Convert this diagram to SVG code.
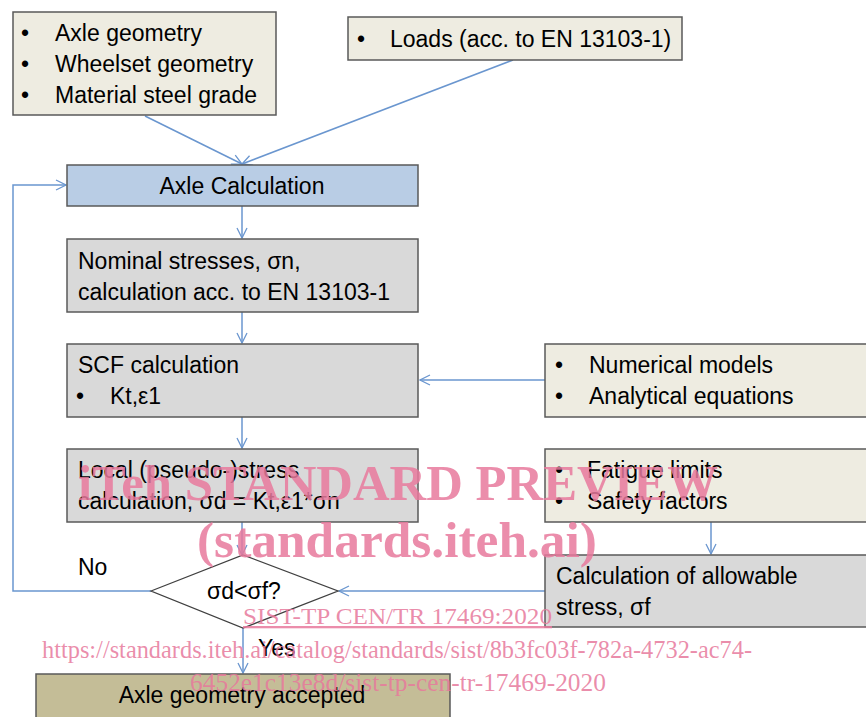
<svg xmlns="http://www.w3.org/2000/svg" width="866" height="717" viewBox="0 0 866 717">
<defs>
<marker id="arr" viewBox="0 0 12 12" refX="11" refY="6" markerWidth="12" markerHeight="12" markerUnits="userSpaceOnUse" orient="auto">
<polyline points="1,1 11,6 1,11" fill="none" stroke="#6A96CF" stroke-width="1.3"/>
</marker>
<style>
.box{stroke:#595959;stroke-width:1.5}
.inp{fill:#EEECE1}
.calc{fill:#D9D9D9}
.blue{fill:#B9CDE5}
.ok{fill:#C4BD97}
text{font-family:"Liberation Sans",Arial,sans-serif;font-size:23px;fill:#000}
.c{text-anchor:middle}
.ln{fill:none;stroke:#6A96CF;stroke-width:1.5}
.wm{font-family:"Liberation Serif","Times New Roman",serif;fill:#E7799C;fill-opacity:0.85}
</style>
</defs>
<g id="connectors">
<line class="ln" x1="145" y1="116" x2="242" y2="164" marker-end="url(#arr)"/>
<line class="ln" x1="513" y1="60" x2="242" y2="164" marker-end="url(#arr)"/>
<line class="ln" x1="242" y1="206" x2="242" y2="238" marker-end="url(#arr)"/>
<line class="ln" x1="242" y1="312" x2="242" y2="343" marker-end="url(#arr)"/>
<line class="ln" x1="242" y1="417" x2="242" y2="448" marker-end="url(#arr)"/>
<line class="ln" x1="242" y1="522" x2="242" y2="555" marker-end="url(#arr)"/>
<line class="ln" x1="545" y1="380" x2="420" y2="380" marker-end="url(#arr)"/>
<line class="ln" x1="711" y1="522" x2="711" y2="554" marker-end="url(#arr)"/>
<line class="ln" x1="545" y1="591" x2="339" y2="591" marker-end="url(#arr)"/>
<polyline class="ln" points="151,591 13,591 13,185 66,185" marker-end="url(#arr)"/>
<line class="ln" x1="243" y1="628" x2="243" y2="673" marker-end="url(#arr)"/>
</g>
<g id="inputs">
<rect class="box inp" x="13" y="12" width="263" height="103"/>
<text x="21" y="41">•</text><text x="55" y="41">Axle geometry</text>
<text x="21" y="72">•</text><text x="55" y="72">Wheelset geometry</text>
<text x="21" y="103">•</text><text x="55" y="103">Material steel grade</text>
</g>
<g id="loads">
<rect class="box inp" x="348" y="17" width="334" height="43"/>
<text x="357" y="47">•</text><text x="390" y="47">Loads (acc. to EN 13103-1)</text>
</g>
<g id="axle-calculation">
<rect class="box blue" x="67" y="165" width="351" height="41"/>
<text class="c" x="242" y="194">Axle Calculation</text>
</g>
<g id="nominal">
<rect class="box calc" x="67" y="239" width="351" height="73"/>
<text x="78" y="269">Nominal stresses, σn,</text>
<text x="78" y="300">calculation acc. to EN 13103-1</text>
</g>
<g id="scf">
<rect class="box calc" x="67" y="344" width="351" height="73"/>
<text x="78" y="373">SCF calculation</text>
<text x="76" y="404">•</text><text x="110" y="404">Kt,ε1</text>
</g>
<g id="local">
<rect class="box calc" x="67" y="449" width="351" height="73"/>
<text x="78" y="478">Local (pseudo-)stress</text>
<text x="78" y="509">calculation, σd = Kt,ε1*σn</text>
</g>
<g id="models">
<rect class="box inp" x="545" y="344" width="330" height="73"/>
<text x="555" y="373">•</text><text x="589" y="373">Numerical models</text>
<text x="555" y="404">•</text><text x="589" y="404">Analytical equations</text>
</g>
<g id="limits">
<rect class="box inp" x="545" y="449" width="330" height="73"/>
<text x="555" y="478">•</text><text x="587" y="478">Fatigue limits</text>
<text x="555" y="509">•</text><text x="587" y="509">Safety factors</text>
</g>
<g id="allowable">
<rect class="box calc" x="545" y="555" width="330" height="72"/>
<text x="556" y="584">Calculation of allowable</text>
<text x="556" y="615">stress, σf</text>
</g>
<g id="decision">
<polygon points="151,591 243,555 338,591 243,628" fill="#FFFFFF" stroke="#404040" stroke-width="1.3"/>
<text class="c" x="244" y="599">σd&lt;σf?</text>
</g>
<text x="78" y="575">No</text>
<text x="258" y="656">Yes</text>
<g id="accepted">
<rect class="box ok" x="36" y="674" width="414" height="45"/>
<text class="c" x="242" y="703">Axle geometry accepted</text>
</g>
<g id="watermark">
<text class="wm" x="78" y="500" textLength="640" lengthAdjust="spacingAndGlyphs" style="font-size:51px;font-weight:bold">iTeh STANDARD PREVIEW</text>
<text class="wm" x="197" y="557" textLength="400" lengthAdjust="spacingAndGlyphs" style="font-size:51px;font-weight:bold">(standards.iteh.ai)</text>
<text class="wm" x="243" y="624" textLength="309" lengthAdjust="spacingAndGlyphs" style="font-size:23px;text-decoration:underline">SIST-TP CEN/TR 17469:2020</text>
<text class="wm" x="42" y="658" textLength="710" lengthAdjust="spacingAndGlyphs" style="font-size:24.5px">https://standards.iteh.ai/catalog/standards/sist/8b3fc03f-782a-4732-ac74-</text>
<text class="wm" x="190" y="691" textLength="416" lengthAdjust="spacingAndGlyphs" style="font-size:25px">6452e1c13e8d/sist-tp-cen-tr-17469-2020</text>
</g>
</svg>
